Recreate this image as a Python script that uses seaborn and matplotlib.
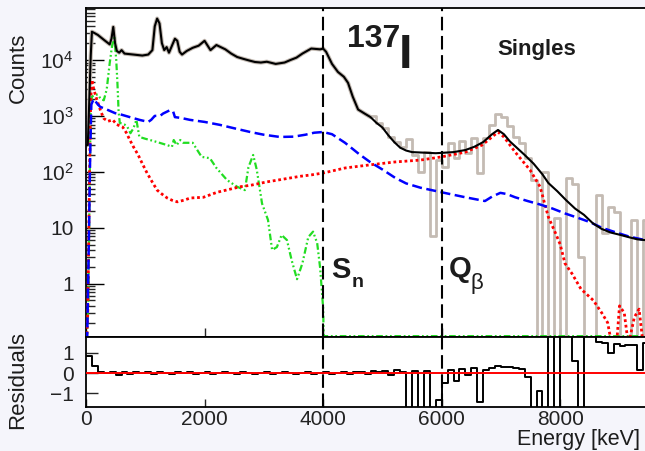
import numpy as np
import pandas as pd
import matplotlib
matplotlib.use("Agg")
import matplotlib.pyplot as plt
import seaborn as sns
from matplotlib.ticker import FixedLocator, LogLocator, NullFormatter, FixedFormatter

# ---------------- data ----------------
# total fit (black)
fit_E = [0, 30, 50, 80, 100, 150, 200, 300, 400, 430, 460, 490, 520, 560, 600, 650, 800, 950,
         1050, 1120, 1160, 1200, 1240, 1280, 1320, 1360, 1400, 1450, 1500, 1540, 1580, 1620,
         1700, 1800, 1900, 2000, 2100, 2200, 2350, 2450, 2550, 2650, 2750, 2850, 2950, 3050,
         3200, 3350, 3450, 3550, 3650, 3800, 3950, 4000, 4050, 4150, 4250, 4350, 4420, 4500,
         4590, 4700, 4800, 4900, 5000, 5100, 5200, 5300, 5400, 5500, 5700, 5900, 6000, 6200,
         6400, 6550, 6700, 6850, 6950, 7050, 7150, 7250, 7400, 7550, 7700, 7800, 7950, 8100,
         8250, 8400, 8550, 8700, 8850, 9000, 9150, 9300, 9430]
fit_counts = [300, 300, 1250, 1.2e4, 3.2e4, 3.0e4, 2.8e4, 2.3e4, 1.9e4, 2.4e4, 3.9e4, 2.0e4,
              1.45e4, 1.35e4, 1.5e4, 1.3e4, 1.25e4, 1.2e4, 1.25e4, 1.5e4, 4.0e4, 5.5e4, 4.5e4,
              2.0e4, 1.5e4, 1.7e4, 1.35e4, 1.8e4, 2.4e4, 2.2e4, 1.4e4, 1.25e4, 1.45e4, 1.65e4,
              1.8e4, 2.2e4, 1.5e4, 1.85e4, 1.55e4, 1.3e4, 1.13e4, 1.05e4, 9.8e3, 9.2e3, 9.0e3,
              9.3e3, 8.5e3, 9.0e3, 1.0e4, 1.1e4, 1.3e4, 1.6e4, 1.55e4, 1.6e4, 1.4e4, 8.5e3,
              6.1e3, 5.0e3, 3.9e3, 2.2e3, 1.3e3, 1.1e3, 950, 750, 620, 450, 340, 270, 240, 225,
              220, 215, 218, 225, 245, 280, 340, 470, 560, 470, 350, 280, 200, 140, 90, 63, 45,
              31, 22, 17, 12, 9.5, 8.2, 7.5, 6.8, 6.2, 6.0]

# measured spectrum above 4.8 MeV (grey histogram, 100 keV bins)
data_edges = list(range(4800, 9501, 100))
data_counts = [1000, 750, 600, 420, 340, 280, 380, 200, 100, 230, 7, 160, 120, 330, 180, 350,
               220, 400, 95, 400, 690, 1100, 950, 650, 420, 330, 180, 70, 0.01, 100, 0.01, 15,
               0.01, 78, 60, 3, 0.01, 0.01, 38, 8, 23, 19, 0.01, 0.01, 14, 0.01, 14]

# blue dashed component
blue_E = [0, 20, 50, 70, 90, 130, 200, 240, 350, 490, 600, 740, 900, 1050, 1100, 1160, 1250,
          1300, 1420, 1470, 1500, 1600, 1750, 2000, 2260, 2500, 2770, 3000, 3270, 3500, 3700,
          3850, 4000, 4150, 4370, 4600, 4790, 5000, 5215, 5400, 5640, 6000, 6400, 6730, 6850,
          6990, 7100, 7240, 7450, 7660, 7870, 8080, 8300, 8500, 8700, 8930, 9150, 9430]
blue_counts = [0.05, 0.1, 8, 200, 1600, 2000, 1600, 1450, 1300, 1120, 1050, 950, 850, 780, 850,
               1000, 1000, 1100, 1270, 1200, 950, 920, 850, 780, 690, 600, 515, 460, 420, 425,
               460, 500, 515, 470, 330, 210, 150, 110, 78, 62, 52, 43, 35, 30, 36, 42, 40, 35,
               30, 26, 22, 18, 15, 12.6, 10, 8.3, 7, 6]

# red dotted component
red_E = [0, 30, 60, 80, 100, 130, 180, 250, 300, 370, 450, 520, 620, 680, 740, 800, 880, 950,
         1030, 1120, 1200, 1280, 1370, 1450, 1540, 1650, 1760, 1980, 2210, 2400, 2600, 2800,
         3050, 3300, 3610, 3800, 4000, 4370, 4790, 5215, 5640, 6000, 6400, 6680, 6800, 6950,
         7050, 7240, 7490, 7660, 7800, 7920, 8000, 8080, 8200, 8350, 8560, 8700, 8800, 8870,
         8950, 9000, 9080, 9150, 9250, 9330, 9400]
red_counts = [0.05, 0.3, 100, 2000, 4400, 3000, 2000, 1200, 900, 800, 850, 700, 630, 500, 370,
              280, 200, 140, 95, 65, 47, 40, 34, 31, 29, 31, 34, 35, 43, 48, 54, 58, 66, 73,
              83, 88, 95, 117, 133, 150, 162, 185, 225, 300, 380, 515, 420, 225, 108, 54, 15.5,
              8, 5, 2.3, 1.5, 0.8, 0.5, 0.3, 0.2, 0.08, 0.08, 0.4, 0.3, 0.08, 0.25, 0.35, 0.08]

# green dash-dotted component
green_E = [0, 40, 60, 80, 100, 150, 200, 250, 300, 350, 400, 440, 480, 510, 530, 550, 570, 650,
           700, 750, 800, 850, 900, 1000, 1080, 1200, 1370, 1450, 1480, 1530, 1590, 1640, 1800,
           1950, 2090, 2200, 2380, 2550, 2680, 2740, 2820, 2880, 2970, 3070, 3140, 3220, 3300,
           3390, 3470, 3560, 3650, 3750, 3830, 3900, 3950, 4000, 4010, 9430]
green_counts = [0.05, 0.5, 50, 1500, 2200, 2400, 2400, 2000, 1900, 3000, 8800, 1.8e4, 2.5e4,
                1.0e4, 3900, 1200, 750, 700, 630, 490, 600, 850, 420, 390, 370, 340, 300, 280,
                370, 300, 370, 330, 330, 185, 175, 117, 71, 54, 47, 120, 200, 110, 27, 13.8, 4,
                4.5, 7.4, 6, 2.6, 1.2, 2.3, 6.8, 8.5, 5.3, 1.9, 0.37, 0.115, 0.115]

# residuals (100 keV bins)
res_edges = list(range(0, 9501, 100))
res_values = [0.85, 0.35, 0.05, -0.02, 0.05, -0.12, 0.04, -0.04, 0.05, 0.0,
              0.05, -0.03, 0.04, 0.0, -0.04, 0.05, 0.0, 0.04, -0.03, 0.0,
              0.04, -0.03, 0.0, 0.04, 0.0, -0.03, 0.04, 0.0, -0.03, 0.0,
              0.04, -0.03, 0.0, 0.04, 0.0, -0.03, 0.0, 0.04, -0.03, 0.0,
              0.04, -0.03, 0.0, 0.05, -0.04, 0.04, 0.07, -0.06, 0.1, 0.03,
              0.12, -0.08, 0.15, 0.05, -2, 0.1, -2, 0.1, -2, -1.3,
              -0.5, 0.15, -0.4, 0.2, -0.1, 0.25, -1.4, 0.15, 0.25, 0.32,
              0.28, 0.3, 0.25, 0.22, -0.2, -2, -0.9, -2, 2, -2,
              2, 2, 0.6, -2, 2, 2, 1.5, 1.45, 1.0, 1.4,
              1.3, 1.35, 1.35, 0.15, 1.45]

markers_E = [4000, 6000]
x_ticks = [0, 2000, 4000, 6000, 8000]
y_ticks = [1, 10, 100, 1000, 10000]
y_tick_labels = ["1", "10", "10$^{2}$", "10$^{3}$", "10$^{4}$"]
res_ticks = [-1, 0, 1]
res_tick_labels = ["\u22121", "0", "1"]

# ---------------- style ----------------
sns.set_theme(style="ticks")
plt.rcParams["font.family"] = ["Liberation Sans", "DejaVu Sans"]
plt.rcParams["mathtext.fontset"] = "custom"
plt.rcParams["mathtext.rm"] = "Liberation Sans"
plt.rcParams["mathtext.it"] = "Liberation Sans:italic"
plt.rcParams["mathtext.bf"] = "Liberation Sans:bold"

W, H = 645, 451
fig = plt.figure(figsize=(W / 100, H / 100), dpi=100, facecolor="#f5f5fb")
L = 86 / W
ax = fig.add_axes([L, 1 - 337 / H, 1 - L, (337 - 8) / H], facecolor="white")
axr = fig.add_axes([L, 1 - 407 / H, 1 - L, 70 / H], facecolor="white")


def line(a, x, y, **kw):
    sns.lineplot(x=x, y=y, ax=a, sort=False, estimator=None, legend=False, **kw)


grey = "#c4bbb3"
# grey data (below 4.8 MeV it coincides with the fit)
lo = [i for i, e in enumerate(fit_E) if e <= 4800]
line(ax, [fit_E[i] for i in lo], [fit_counts[i] for i in lo], color=grey, lw=3.0, zorder=1)
line(ax, data_edges, data_counts + [data_counts[-1]], color=grey, lw=2.0,
     drawstyle="steps-post", zorder=1)
line(ax, green_E, green_counts, color="#22dd22", lw=1.6,
     linestyle=(0, (3, 1.2, 0.8, 1.2, 0.8, 1.2)), zorder=2)
line(ax, red_E, red_counts, color="#ff0000", lw=2.0, linestyle=(0, (1, 1)), zorder=3)
line(ax, blue_E, blue_counts, color="#0000ff", lw=1.8, linestyle=(0, (4, 1.8)), zorder=4)
line(ax, fit_E, fit_counts, color="black", lw=1.5, zorder=5)

ax.set_yscale("log")
ax.set_xlim(0, 9430)
ax.set_ylim(0.111, 8.5e4)

for a in (ax, axr):
    for e in markers_E:
        a.axvline(e, color="black", lw=1.5, linestyle=(0, (6.5, 2.7)), zorder=6)

# residuals
line(axr, res_edges, res_values + [res_values[-1]], color="black", lw=1.4,
     drawstyle="steps-post", zorder=3)
axr.axhline(0, color="#ff0000", lw=1.4, zorder=4)
axr.set_xlim(0, 9430)
axr.set_ylim(-1.66, 1.76)

# ticks
ax.yaxis.set_major_locator(FixedLocator(y_ticks))
ax.yaxis.set_major_formatter(FixedFormatter(y_tick_labels))
ax.yaxis.set_minor_locator(LogLocator(base=10, subs=np.arange(2, 10)))
ax.yaxis.set_minor_formatter(NullFormatter())
ax.set_xticks(x_ticks)
ax.set_xticklabels([])
ax.tick_params(axis="y", which="major", direction="in", length=13, width=1, pad=9,
               labelsize=15, left=True, right=False, colors="black")
ax.tick_params(axis="y", which="minor", direction="in", length=6.5, width=1, left=True,
               right=False)
ax.tick_params(axis="x", which="major", direction="in", length=6.5, width=1, bottom=True,
               top=False)
axr.set_yticks(res_ticks)
axr.set_yticklabels(res_tick_labels)
axr.set_xticks(x_ticks)
axr.set_xticklabels([str(t) for t in x_ticks])
axr.tick_params(axis="y", direction="in", length=8.5, width=1, pad=9, labelsize=15,
                right=False)
axr.tick_params(axis="x", direction="in", length=6, width=1, pad=2.5, labelsize=15, top=False)

for a in (ax, axr):
    a.set_xlabel("")
    a.set_ylabel("")
    a.spines["right"].set_visible(False)
    for s in ("left", "top", "bottom"):
        a.spines[s].set_color("black")
        a.spines[s].set_linewidth(1.3)
    for lab in a.get_xticklabels() + a.get_yticklabels():
        lab.set_color("#222222")


def ftext(x, y, s, **kw):
    fig.text(x / W, 1 - y / H, s, **kw)


tc = "#1c1c1c"
ftext(18, 68, "Counts", rotation=90, ha="center", va="center", fontsize=16, color=tc)
ftext(18, 380, "Residuals", rotation=90, ha="center", va="center", fontsize=16, color=tc)
ftext(640, 440, "Energy [keV]", ha="right", va="center", fontsize=15.5, color=tc)

ftext(347, 47, "137", ha="left", va="baseline", fontsize=23, fontweight="bold", color=tc)
ftext(399, 68, "I", ha="left", va="baseline", fontsize=35, fontweight="bold", color=tc)
ftext(497, 55, "Singles", ha="left", va="baseline", fontsize=16, fontweight="bold", color=tc)
ftext(331, 278, "S", ha="left", va="baseline", fontsize=21, fontweight="bold", color=tc)
ftext(352, 287, "n", ha="left", va="baseline", fontsize=14, fontweight="bold", color=tc)
ftext(449, 277, "Q", ha="left", va="baseline", fontsize=21, fontweight="bold", color=tc)
ftext(471, 289, "\u03b2", ha="left", va="baseline", fontsize=16, color=tc)

fig.savefig("out.png", dpi=100, facecolor=fig.get_facecolor())
